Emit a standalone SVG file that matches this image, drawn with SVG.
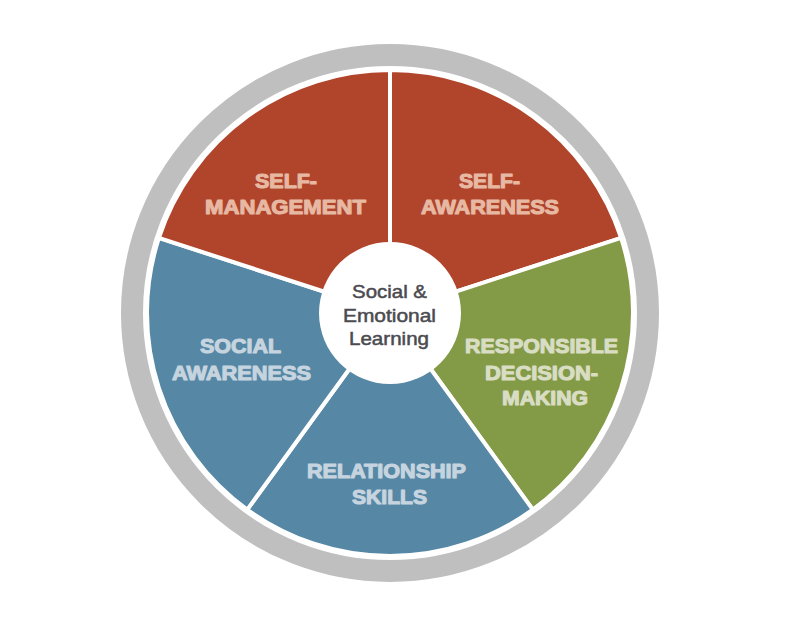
<svg xmlns="http://www.w3.org/2000/svg" width="800" height="627" viewBox="0 0 800 627">
  <style>
    .sec { stroke: #ffffff; stroke-width: 4; stroke-linejoin: miter; }
    .red { fill: #B0452C; }
    .green { fill: #839A47; }
    .blue { fill: #5688A6; }
    .lbl { font-family: "Liberation Sans", Arial, sans-serif; font-weight: 700; font-size: 20px; text-anchor: middle; stroke-width: 1.1; stroke-linejoin: round; }
    .lr { fill: #E7B8A2; stroke: #E7B8A2; }
    .lb { fill: #C6D4DF; stroke: #C6D4DF; }
    .lg { fill: #D8DDC3; stroke: #D8DDC3; }
    .ctr { font-family: "Liberation Sans", Arial, sans-serif; font-weight: 400; font-size: 18.5px; fill: #4B4B50; stroke: #4B4B50; stroke-width: 0.5; text-anchor: middle; }
  </style>
  <rect width="800" height="627" fill="#ffffff"/>
  <circle id="ring" cx="390" cy="313" r="258" fill="none" stroke="#BFBFBF" stroke-width="22"/>
  <g id="connectors"></g>
  <g id="self-awareness">
    <path class="sec red" d="M390,313 L390,70 A243,243 0 0 1 621.1,237.9 Z"/>
    <text class="lbl lr" x="489.5" y="188" textLength="61" lengthAdjust="spacingAndGlyphs">SELF-</text>
    <text class="lbl lr" x="490" y="214" textLength="138" lengthAdjust="spacingAndGlyphs">AWARENESS</text>
  </g>
  <g id="responsible-decision-making">
    <path class="sec green" d="M390,313 L621.1,237.9 A243,243 0 0 1 532.8,509.6 Z"/>
    <text class="lbl lg" x="541.5" y="353" textLength="153" lengthAdjust="spacingAndGlyphs">RESPONSIBLE</text>
    <text class="lbl lg" x="541.5" y="380" textLength="113" lengthAdjust="spacingAndGlyphs">DECISION-</text>
    <text class="lbl lg" x="545" y="405" textLength="86" lengthAdjust="spacingAndGlyphs">MAKING</text>
  </g>
  <g id="relationship-skills">
    <path class="sec blue" d="M390,313 L532.8,509.6 A243,243 0 0 1 247.2,509.6 Z"/>
    <text class="lbl lb" x="386.5" y="478" textLength="159" lengthAdjust="spacingAndGlyphs">RELATIONSHIP</text>
    <text class="lbl lb" x="389.5" y="504" textLength="75" lengthAdjust="spacingAndGlyphs">SKILLS</text>
  </g>
  <g id="social-awareness">
    <path class="sec blue" d="M390,313 L247.2,509.6 A243,243 0 0 1 158.9,237.9 Z"/>
    <text class="lbl lb" x="240.5" y="353" textLength="81" lengthAdjust="spacingAndGlyphs">SOCIAL</text>
    <text class="lbl lb" x="241.5" y="380" textLength="139" lengthAdjust="spacingAndGlyphs">AWARENESS</text>
  </g>
  <g id="self-management">
    <path class="sec red" d="M390,313 L158.9,237.9 A243,243 0 0 1 390,70 Z"/>
    <text class="lbl lr" x="286" y="188" textLength="62" lengthAdjust="spacingAndGlyphs">SELF-</text>
    <text class="lbl lr" x="285.5" y="214" textLength="161" lengthAdjust="spacingAndGlyphs">MANAGEMENT</text>
  </g>
  <g id="center">
    <circle cx="390" cy="313" r="71" fill="#ffffff"/>
    <text class="ctr" x="389.5" y="298" textLength="75" lengthAdjust="spacingAndGlyphs">Social &amp;</text>
    <text class="ctr" x="389.5" y="322" textLength="93" lengthAdjust="spacingAndGlyphs">Emotional</text>
    <text class="ctr" x="389" y="345" textLength="80" lengthAdjust="spacingAndGlyphs">Learning</text>
  </g>
</svg>
